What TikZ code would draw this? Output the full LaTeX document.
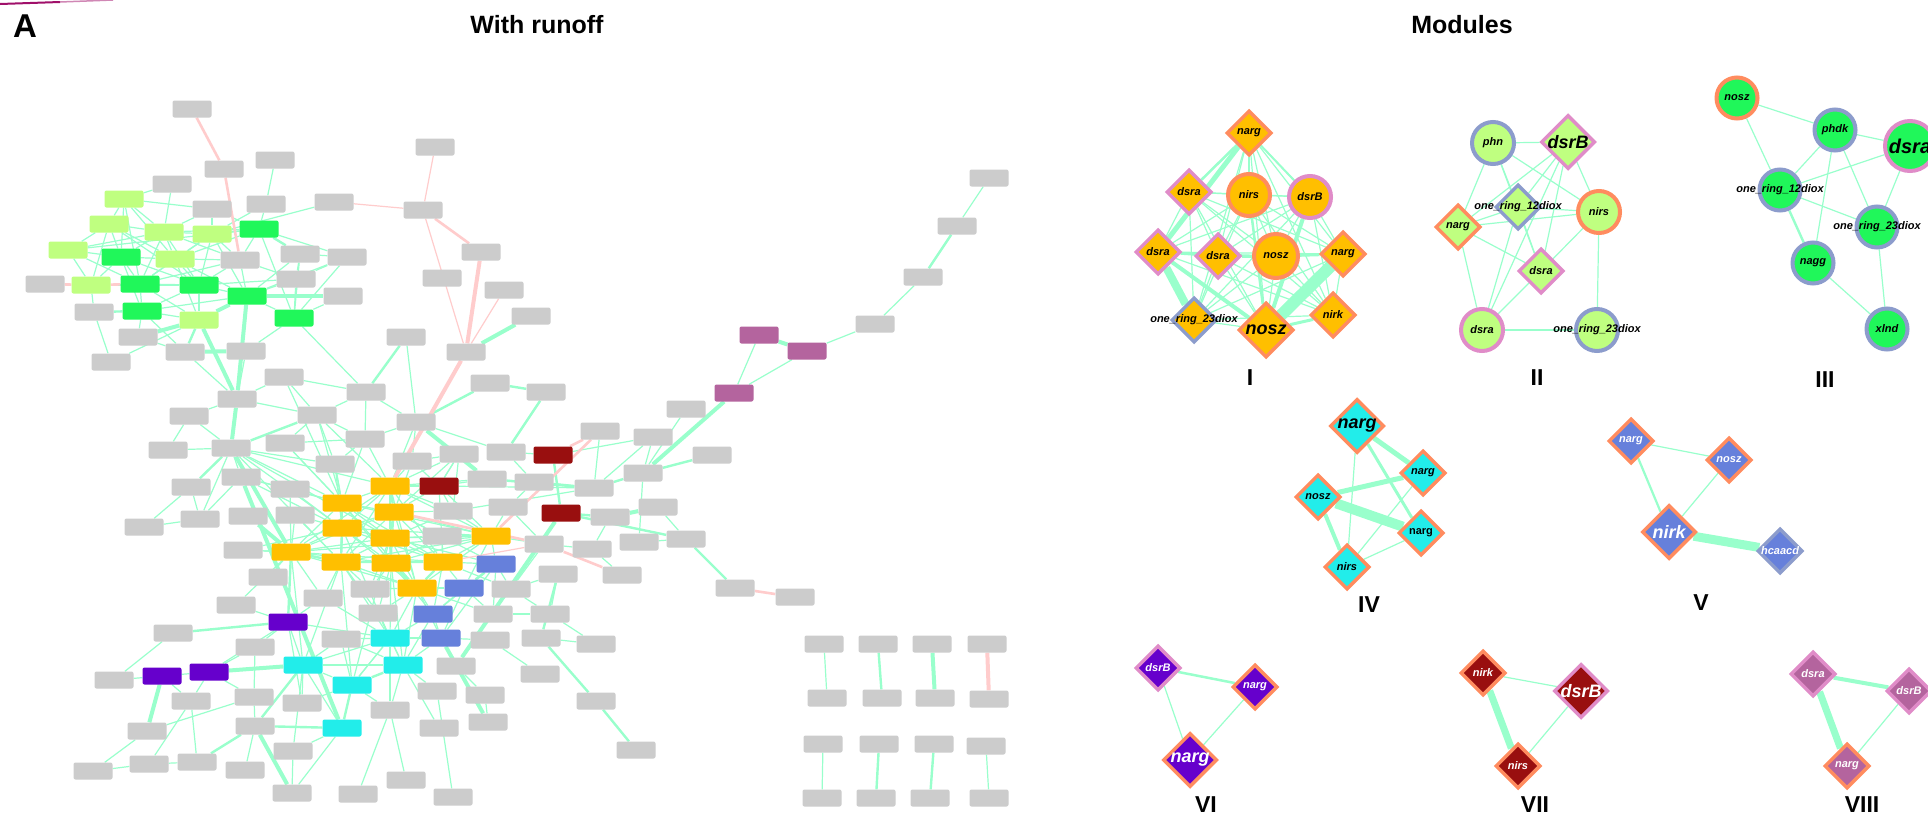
\documentclass[tikz,border=0pt]{standalone}
\usepackage{fontspec}
\setmainfont{Liberation Sans}
\usetikzlibrary{shapes.geometric}
\pgfdeclarelayer{bg}
\pgfsetlayers{bg,main}
\definecolor{gb}{HTML}{CCCCCC}
\definecolor{cI}{HTML}{FFBF00}
\definecolor{cII}{HTML}{BFFF80}
\definecolor{cIII}{HTML}{20F75A}
\definecolor{cIV}{HTML}{22EDEA}
\definecolor{cV}{HTML}{6680DB}
\definecolor{cVI}{HTML}{6600CC}
\definecolor{cVII}{HTML}{990F0F}
\definecolor{cVIII}{HTML}{B4649E}
\definecolor{eg}{HTML}{99FFCC}
\definecolor{ep}{HTML}{FFCCCC}
\definecolor{bo}{HTML}{FF8C5F}
\definecolor{bp}{HTML}{E08CC8}
\definecolor{bb}{HTML}{8C9CCC}
\definecolor{mag}{HTML}{A0106A}
\newcommand\modsm{\bfseries\itshape\fontsize{11}{12}\selectfont}
\newcommand\modbg{\bfseries\itshape\fontsize{18}{20}\selectfont}
\begin{document}
\begin{tikzpicture}[x=1pt,y=-1pt,
 nbox/.style={rectangle, rounded corners=2pt, minimum width=39pt, minimum height=17pt, inner sep=0pt, fill=gb},
 ea/.style={eg, line width=1.2pt},
 eb/.style={eg, line width=2.4pt},
 ec/.style={eg, line width=4pt},
 pa/.style={ep, line width=1.2pt},
 pb/.style={ep, line width=2.6pt},
 pc/.style={ep, line width=4pt},
 md/.style={shape=diamond, aspect=1, minimum width=#1, minimum height=#1, inner sep=0pt, line width=3.5pt},
 mc/.style={shape=circle, minimum size=#1, inner sep=0pt, line width=4pt},
 ttl/.style={font=\bfseries\fontsize{25}{30}\selectfont},
 mlab/.style={font=\bfseries\fontsize{23}{26}\selectfont},
]
\clip (0,0) rectangle (1928,817);
\begin{pgfonlayer}{bg}
\fill[white] (0,0) rectangle (1928,817);
\end{pgfonlayer}
\draw[mag, line width=2pt] (0,4) -- (60,2);
\draw[mag!50, line width=1.5pt] (60,2) -- (113,0);
\node[font=\bfseries\fontsize{33}{36}\selectfont] (tA) at (25,26) {A};
\node[ttl] (t1) at (537,25) {With runoff};
\node[ttl] (t2) at (1462,25) {Modules};

% ---------- left network nodes ----------
\foreach \n/\x/\y in {g1/192/109, g2/224/169, g3/275/160, g4/172/184, g5/212/209, g6/266/204, g7/334/202, g8/423/210, g9/435/147, g10/481/252, g11/442/278, g12/504/290, g13/531/316, g14/466/352, g15/406/337, g16/240/260, g17/300/254, g18/347/257, g19/45/284, g20/296/279, g21/343/296, g22/94/312, g23/138/337, g24/185/352, g25/246/351, g26/111/362, g27/284/377, g28/366/392, g29/237/399, g30/189/416, g31/317/415, g32/416/422, g33/490/383, g34/546/392, g35/686/409, g36/600/431, g37/653/437, g38/365/439, g39/412/461, g40/459/454, g41/506/452, g42/712/455, g43/643/473, g44/487/479, g45/534/482, g46/594/488, g47/453/511, g48/508/507, g49/610/517, g50/658/507, g51/442/536, g52/544/544, g53/592/549, g54/639/542, g55/686/539, g56/558/574, g57/622/575, g58/735/588, g59/795/597, g60/511/589, g61/370/589, g62/378/613, g63/493/614, g64/550/614, g65/490/640, g66/541/638, g67/596/644, g68/456/666, g69/540/674, g70/437/691, g71/485/695, g72/596/701, g73/390/710, g74/439/728, g75/488/722, g76/636/750, g77/406/780, g78/453/797, g79/168/450, g80/231/448, g81/285/443, g82/335/464, g83/191/487, g84/241/477, g85/290/489, g86/144/527, g87/200/519, g88/248/516, g89/295/515, g90/243/550, g91/268/577, g92/236/605, g93/323/598, g94/173/633, g95/341/639, g96/255/647, g97/114/680, g98/191/701, g99/254/697, g100/302/703, g101/147/731, g102/255/726, g103/293/751, g104/93/771, g105/149/764, g106/197/762, g107/245/770, g108/292/793, g109/358/794, g110/875/324, g111/923/277, g112/957/226, g113/989/178,
q1/824/644, q2/827/698, q3/878/644, q4/882/698, q5/932/644, q6/935/698, q7/987/644, q8/989/699, q9/823/744, q10/822/798, q11/879/744, q12/876/798, q13/934/744, q14/930/798, q15/986/746, q16/989/798}
  \node[nbox] (\n) at (\x,\y) {};
\foreach \n/\x/\y in {l1/124/199, l2/109/224, l3/164/232, l4/212/234, l5/68/250, l6/175/259, l7/91/285, l8/199/320}
  \node[nbox, fill=cII] (\n) at (\x,\y) {};
\foreach \n/\x/\y in {m1/259/229, m2/121/257, m3/140/284, m4/199/285, m5/247/296, m6/142/311, m7/294/318}
  \node[nbox, fill=cIII] (\n) at (\x,\y) {};
\foreach \n/\x/\y in {y1/390/486, y2/342/503, y3/394/512, y4/342/528, y5/390/538, y6/491/536, y7/291/552, y8/341/562, y9/391/563, y10/443/562, y11/417/588}
  \node[nbox, fill=cI] (\n) at (\x,\y) {};
\foreach \n/\x/\y in {r1/553/455, r2/439/486, r3/561/513}
  \node[nbox, fill=cVII] (\n) at (\x,\y) {};
\foreach \n/\x/\y in {v1/759/335, v2/807/351, v3/734/393}
  \node[nbox, fill=cVIII] (\n) at (\x,\y) {};
\foreach \n/\x/\y in {b1/496/564, b2/464/588, b3/433/614, b4/441/638}
  \node[nbox, fill=cV] (\n) at (\x,\y) {};
\foreach \n/\x/\y in {c1/390/638, c2/403/665, c3/303/665, c4/352/685, c5/342/728}
  \node[nbox, fill=cIV] (\n) at (\x,\y) {};
\foreach \n/\x/\y in {u1/288/622, u2/162/676, u3/209/672}
  \node[nbox, fill=cVI] (\n) at (\x,\y) {};

% ---------- modules ----------
% I
\node[md=45pt, fill=cI, draw=bo, label={center:{\modsm narg}}] (I1) at (1249,133) {};
\node[md=45pt, fill=cI, draw=bp, label={center:{\modsm dsra}}] (I2) at (1189,192) {};
\node[mc=42pt, fill=cI, draw=bo, label={center:{\modsm nirs}}] (I3) at (1249,195) {};
\node[mc=42pt, fill=cI, draw=bp, label={center:{\modsm dsrB}}] (I4) at (1310,197) {};
\node[md=45pt, fill=cI, draw=bp, label={center:{\modsm dsra}}] (I5) at (1158,252) {};
\node[md=45pt, fill=cI, draw=bp, label={center:{\modsm dsra}}] (I6) at (1218,256) {};
\node[mc=44pt, fill=cI, draw=bo, label={center:{\modsm nosz}}] (I7) at (1276,256) {};
\node[md=45pt, fill=cI, draw=bo, label={center:{\modsm narg}}] (I8) at (1343,254) {};
\node[md=45pt, fill=cI, draw=bb, label={center:{\modsm one\_ring\_23diox}}] (I9) at (1194,320) {};
\node[md=55pt, fill=cI, draw=bo, label={center:{\modbg nosz}}] (I10) at (1266,330) {};
\node[md=45pt, fill=cI, draw=bo, label={center:{\modsm nirk}}] (I11) at (1333,315) {};
\node[mlab] (LI) at (1250,378) {I};
% II
\node[mc=42pt, fill=cII, draw=bb, label={center:{\modsm phn}}] (A1) at (1493,143) {};
\node[md=54pt, fill=cII, draw=bp, label={center:{\modbg dsrB}}] (A2) at (1568,142) {};
\node[md=45pt, fill=cII, draw=bb, label={center:{\modsm one\_ring\_12diox}}] (A3) at (1518,207) {};
\node[mc=42pt, fill=cII, draw=bo, label={center:{\modsm nirs}}] (A4) at (1599,212) {};
\node[md=45pt, fill=cII, draw=bo, label={center:{\modsm narg}}] (A5) at (1458,227) {};
\node[md=45pt, fill=cII, draw=bp, label={center:{\modsm dsra}}] (A6) at (1541,271) {};
\node[mc=42pt, fill=cII, draw=bp, label={center:{\modsm dsra}}] (A7) at (1482,330) {};
\node[mc=42pt, fill=cII, draw=bb, label={center:{\modsm one\_ring\_23diox}}] (A8) at (1597,330) {};
\node[mlab] (LII) at (1537,378) {II};
% III
\node[mc=41pt, fill=cIII, draw=bo, label={center:{\modsm nosz}}] (B1) at (1737,98) {};
\node[mc=41pt, fill=cIII, draw=bb, label={center:{\modsm phdk}}] (B2) at (1835,130) {};
\node[mc=50pt, fill=cIII, draw=bp, label={center:{\bfseries\itshape\fontsize{20}{22}\selectfont dsra}}] (B3) at (1910,146) {};
\node[mc=41pt, fill=cIII, draw=bb, label={center:{\modsm one\_ring\_12diox}}] (B4) at (1780,190) {};
\node[mc=41pt, fill=cIII, draw=bb, label={center:{\modsm one\_ring\_23diox}}] (B5) at (1877,227) {};
\node[mc=41pt, fill=cIII, draw=bb, label={center:{\modsm nagg}}] (B6) at (1813,263) {};
\node[mc=41pt, fill=cIII, draw=bb, label={center:{\modsm xlnd}}] (B7) at (1887,329) {};
\node[mlab] (LIII) at (1825,380) {III};
% IV
\node[md=54pt, fill=cIV, draw=bo, label={center:{\modbg narg}}] (C1) at (1357,426) {};
\node[md=45pt, fill=cIV, draw=bo, label={center:{\modsm narg}}] (C2) at (1423,473) {};
\node[md=45pt, fill=cIV, draw=bo, label={center:{\modsm nosz}}] (C3) at (1318,497) {};
\node[md=45pt, fill=cIV, draw=bo, label={center:{\bfseries\fontsize{11}{12}\selectfont narg}}] (C4) at (1421,533) {};
\node[md=45pt, fill=cIV, draw=bo, label={center:{\modsm nirs}}] (C5) at (1347,567) {};
\node[mlab] (LIV) at (1369,605) {IV};
% V
\node[md=45pt, fill=cV, draw=bo, label={[text=white]center:{\modsm narg}}] (D1) at (1631,441) {};
\node[md=45pt, fill=cV, draw=bo, label={[text=white]center:{\modsm nosz}}] (D2) at (1729,460) {};
\node[md=54pt, fill=cV, draw=bo, label={[text=white]center:{\modbg nirk}}] (D3) at (1669,532) {};
\node[md=45pt, fill=cV, draw=bb, label={[text=white]center:{\modsm hcaacd}}] (D4) at (1780,551) {};
\node[mlab] (LV) at (1701,603) {V};
% VI
\node[md=45pt, fill=cVI, draw=bp, label={[text=white]center:{\modsm dsrB}}] (E1) at (1158,668) {};
\node[md=45pt, fill=cVI, draw=bo, label={[text=white]center:{\modsm narg}}] (E2) at (1255,687) {};
\node[md=54pt, fill=cVI, draw=bo, label={[text=white]center:{\modbg narg}}] (E3) at (1190,760) {};
\node[mlab] (LVI) at (1206,805) {VI};
% VII
\node[md=45pt, fill=cVII, draw=bo, label={[text=white]center:{\modsm nirk}}] (F1) at (1483,673) {};
\node[md=54pt, fill=cVII, draw=bp, label={[text=white]center:{\modbg dsrB}}] (F2) at (1581,691) {};
\node[md=45pt, fill=cVII, draw=bo, label={[text=white]center:{\modsm nirs}}] (F3) at (1518,766) {};
\node[mlab] (LVII) at (1535,805) {VII};
% VIII
\node[md=45pt, fill=cVIII, draw=bp, label={[text=white]center:{\modsm dsra}}] (H1) at (1813,674) {};
\node[md=45pt, fill=cVIII, draw=bp, label={[text=white]center:{\modsm dsrB}}] (H2) at (1909,691) {};
\node[md=45pt, fill=cVIII, draw=bo, label={[text=white]center:{\modsm narg}}] (H3) at (1847,766) {};
\node[mlab] (LVIII) at (1862,805) {VIII};

% ---------- edges ----------
\begin{pgfonlayer}{bg}
\foreach \i in {1,...,10}{\pgfmathtruncatemacro\k{\i+1}\foreach \j in {\k,...,11}{\draw[ea] (y\i)--(y\j);}}
\foreach \a/\b in {l1/l2, l1/l3, l1/m2, l1/g4, l1/l6, l1/m3, l1/g5, l2/l5, l2/l3, l2/m2, l2/m4, l2/l6, l3/l4, l3/m2, l3/l6, l3/m3, l3/m4, l3/g16, l3/g4, l3/g5, l3/m1, l4/m1, l4/g5, l4/l6, l4/g16, l4/m4, l4/m5, l4/g6, l4/g7, l4/m3, l5/m2, l5/l7, l5/l3, l5/m1, l5/m3, l6/m2, l6/m3, l6/m4, l6/g16, l6/m5, l6/l8, l6/m1, l7/l2, l7/m2, l7/g22, l7/m4, m2/m3, m2/m4, m2/m6, m3/m4, m3/m6, m3/l8, m3/g16, m4/m5, m4/l8, m4/g16, m4/m6, m4/g20, m5/m7, m5/g16, m5/g20, m5/g17, m5/g18, m7/g20, m7/g21, m7/g17, m7/g18, m7/g25, m7/g28, m7/m1, m1/g16, m1/g6, m1/g5, m1/g18, g3/g6, g16/g20, g17/g20, g17/g18, g20/g18, m6/l8, m6/g23, m6/m5, m6/g24, g22/g26, g26/l8, g23/g24, g25/g29, g27/g29, g24/g29, g28/g32, g28/g31, g31/g29, g27/g28, g27/g31, g31/g38, g31/g82, g29/g30, g30/g79, g28/g38, g32/g41, g32/g38, g32/g39, g15/g32, g41/r1, r1/g37, g35/g43, g37/g46, g46/r2, g46/g47, g43/g54, g44/g45, g45/g48, g40/g44, g41/g45, g39/g40, g39/r2, g40/r2, g52/g53, g54/g55, g53/g49, g80/g30, g80/g79, g80/g84, g80/g87, g80/g82, g80/y2, g80/y4, g80/y1, g80/y5, g80/y8, g81/y2, g81/g31, g82/y2, g84/y2, g84/y4, g84/g85, g83/g86, g83/g87, g86/g87, g87/g84, g90/y7, g90/y4, g92/u1, g92/y7, u1/g96, u1/u3, u1/c3, u1/g93, u1/g100, u1/c1, u2/u3, u3/g96, u3/g99, u3/g98, g97/u2, u2/g98, g101/g104, g101/g99, g98/g105, g99/g102, g96/g99, g102/g107, c3/g100, c3/g103, c3/c4, c3/c5, c3/c1, c3/c2, c5/g108, c5/g103, c4/c1, g109/g73, g77/g73, g73/c2, g73/c1, g105/g106, g106/g98, g104/g105, g94/g97, g103/g108, b1/b3, b1/b4, b2/b3, b2/b4, b3/b4, b3/c1, b3/c2, b4/c2, b4/c1, c1/c2, c1/c4, b2/y11, b1/y10, b1/y6, b2/y10, b3/y11, b1/g60, b1/g63, b2/g63, b4/g65, b4/g68, c2/g70, c2/g74, g70/g78, g65/g69, g66/g67, g63/g64, g64/g60, g67/g64, g71/g75, g68/g71, y1/g32, y1/g38, y1/g39, y1/g40, y1/g44, y1/r2, y2/g82, y2/g81, y2/g85, y2/g38, y3/g39, y3/g47, y3/r2, y3/g51, y4/g85, y4/g89, y4/g82, y5/g51, y5/g47, y5/g61, y6/g47, y6/g48, y6/g51, y6/r2, y6/g52, y7/g89, y7/g85, y7/g90, y7/g91, y7/g93, y8/g89, y8/g93, y8/g61, y8/g62, y9/g61, y9/g62, y9/g51, y10/g51, y10/g60, y11/g61, y11/g62, y11/g63, y11/b4, y11/c1, y9/c1, y8/c1, y8/c4, y9/b3, y5/b1, y3/b1, r2/g44, r2/g40, r2/g47, r2/y10, c1/g62, c1/g95, c2/g95, c1/g93, c4/g95, c4/g100, c3/g95, c4/g73, c2/g62, g36/g46, g43/g37, g55/g50, g57/g53, g56/g64, g56/g60, g52/g60, g48/g52, g40/g47, v2/v3, v1/v3, v2/g110, g110/g111, g112/g113, q1/q2, q9/q10, q15/q16, y7/c3, y8/c3, y4/c1, y2/g31, y1/g31, y2/g27, g38/g81, g82/g38, y5/c4, y9/c2, y11/c2, y6/b2, y10/b3, y3/g40, y1/g47}
  \draw[ea] (\a)--(\b);
\foreach \a/\b in {m6/g22, m1/g17, l8/g24, g15/g28, g32/g33, g33/g34, g34/g41, r1/r3, g43/g42, g43/g46, r3/g49, r3/g55, g55/g58, g46/g44, g46/g45, g80/g31, g80/g83, g94/u1, u1/y7, c3/g102, g102/g106, g102/c5, c5/c4, c4/c2, g66/g72, g72/g76, g56/g66, g111/g112, q3/q4, q11/q12, q13/q14, y2/y4, y1/y3, y5/y9, y9/y11, y4/y8, b1/b2, y7/y8, y3/y5, y10/y11, c1/b4}
  \draw[eb] (\a)--(\b);
\foreach \a/\b in {l8/m5, l8/g23, l8/g29, m5/g29, m5/g21, g24/g25, g13/g14, g32/g44, g49/g50, g29/g80, g80/y7, g88/y7, g84/c5, u3/c3, u2/g101, g102/g108, r3/g68, b4/g75, v1/v2, v3/g43, q5/q6}
  \draw[ec] (\a)--(\b);
\foreach \a/\b in {g7/g8, g8/g9, g8/g14, g12/g14, y10/g52}
  \draw[pa] (\a)--(\b);
\foreach \a/\b in {g1/g2, g2/g16, l7/g19, l7/m3, g8/g10, r1/g36, g36/y6, y3/g52, g52/g57, g58/g59}
  \draw[pb] (\a)--(\b);
\foreach \a/\b in {g10/g14, g14/y1, q7/q8}
  \draw[pc] (\a)--(\b);

% module I
\foreach \i in {1,...,10}{\pgfmathtruncatemacro\k{\i+1}\foreach \j in {\k,...,11}{\draw[ea] (I\i)--(I\j);}}
\foreach \a/\b/\w in {I5/I1/5, I5/I9/8, I5/I10/4, I8/I10/12, I4/I10/4, I1/I2/2.5, I6/I7/3, I5/I6/2.5, I7/I8/3, I10/I11/3, I3/I10/2.5, I1/I3/2, I1/I4/2}
  \draw[eg, line width=\w pt] (\a)--(\b);
% module II
\foreach \a/\b in {A1/A2, A1/A5, A1/A3, A1/A4, A1/A6, A2/A5, A2/A3, A2/A4, A2/A6, A2/A7, A5/A4, A5/A3, A5/A6, A5/A7, A3/A4, A3/A6, A3/A7, A4/A6, A4/A8, A7/A6}
  \draw[ea] (\a)--(\b);
\draw[eb] (A7)--(A8);
% module III
\foreach \a/\b in {B1/B2, B1/B4, B2/B3, B2/B4, B2/B6, B2/B5, B3/B4, B3/B5, B4/B5, B6/B7, B5/B7}
  \draw[ea] (\a)--(\b);
\draw[eb] (B4)--(B6);
% module IV
\foreach \a/\b/\w in {C1/C2/5, C1/C4/3, C1/C5/1.2, C3/C2/5, C3/C4/10, C3/C5/4, C2/C5/1.2, C4/C5/1.2}
  \draw[eg, line width=\w pt] (\a)--(\b);
% module V
\foreach \a/\b/\w in {D1/D2/1.2, D1/D3/2.2, D2/D3/1.2, D3/D4/9}
  \draw[eg, line width=\w pt] (\a)--(\b);
% modules VI-VIII
\foreach \a/\b/\w in {E1/E2/2.5, E1/E3/1.2, E2/E3/1.2, F1/F3/7, F1/F2/1.2, F2/F3/1.2, H1/H2/4, H1/H3/7, H2/H3/1.2}
  \draw[eg, line width=\w pt] (\a)--(\b);
\end{pgfonlayer}
\end{tikzpicture}
\end{document}
